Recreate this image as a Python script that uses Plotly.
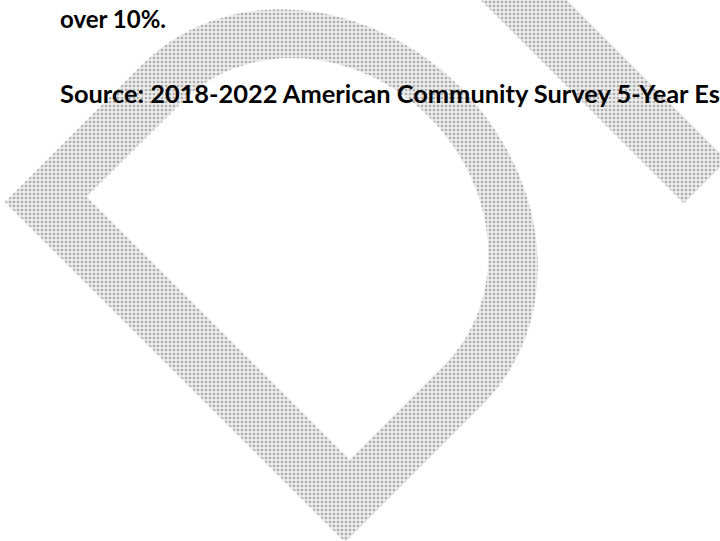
import numpy as np
import plotly.graph_objects as go

# text lines on the scanned page
text_lines = ["over 10%.", "Source: 2018-2022 American Community Survey 5-Year Estimates"]

W, H = 720, 541
S2 = np.sqrt(2)

# watermark letters live in a frame rotated 45 deg; origin = outer corner of the "D"
ORIGIN = (5, 202)


def to_page(u, v):
    u = np.asarray(u, dtype=float)
    v = np.asarray(v, dtype=float)
    x = ORIGIN[0] + (u + v) / S2
    y = ORIGIN[1] + (u - v) / S2
    return x, y


def d_outline(u0, u1, v0, vc, b):
    # straight part then half ellipse bulging along +v
    uc = (u0 + u1) / 2
    a = (u1 - u0) / 2
    t = np.linspace(0, np.pi, 90)
    au = uc + a * np.cos(t)
    av = vc + b * np.sin(t)
    us = [u0, u1] + list(au) + [u0, u0]
    vs = [v0, v0] + list(av) + [vc, v0]
    return np.array(us), np.array(vs)


ou, ov = d_outline(0, 481, 0, 195, 208)
iu, iv = d_outline(54, 426, 61.5, 195, 165)
ox, oy = to_page(ou, ov)
ix, iy = to_page(iu[::-1], iv[::-1])

# stem of the following "R"
ru = [-320, 481, 481, -320, -320]
rv = [479, 479, 540, 540, 479]
rx, ry = to_page(ru, rv)

pattern = dict(shape=".", size=4, solidity=0.35,
               fgcolor="rgb(110,110,110)", bgcolor="rgb(236,236,236)")

fig = go.Figure()
fig.add_trace(go.Scatter(
    x=list(ox) + [None] + list(ix), y=list(oy) + [None] + list(iy),
    mode="lines", line=dict(width=0), fill="toself",
    fillpattern=pattern, hoverinfo="skip", showlegend=False))
fig.add_trace(go.Scatter(
    x=rx, y=ry, mode="lines", line=dict(width=0), fill="toself",
    fillpattern=pattern, hoverinfo="skip", showlegend=False))

fig.add_annotation(x=58, y=35, xref="x", yref="y", text=text_lines[0],
                   showarrow=False, xanchor="left", yanchor="bottom",
                   font=dict(family="Lato", size=24, color="black", weight="bold"))
fig.add_annotation(x=58, y=110, xref="x", yref="y", text=text_lines[1],
                   showarrow=False, xanchor="left", yanchor="bottom",
                   font=dict(family="Lato", size=25.4, color="black", weight="bold"))

fig.update_xaxes(range=[0, W], visible=False, fixedrange=True)
fig.update_yaxes(range=[H, 0], visible=False, fixedrange=True)
fig.update_layout(width=W, height=H,
                  margin=dict(l=0, r=0, t=0, b=0, autoexpand=False),
                  paper_bgcolor="white", plot_bgcolor="white")

# drop the browser's default 8px body margin so the page is exactly the figure
fig.write_html("out.html", config={"displayModeBar": False},
               post_script="document.body.style.margin='0';")
